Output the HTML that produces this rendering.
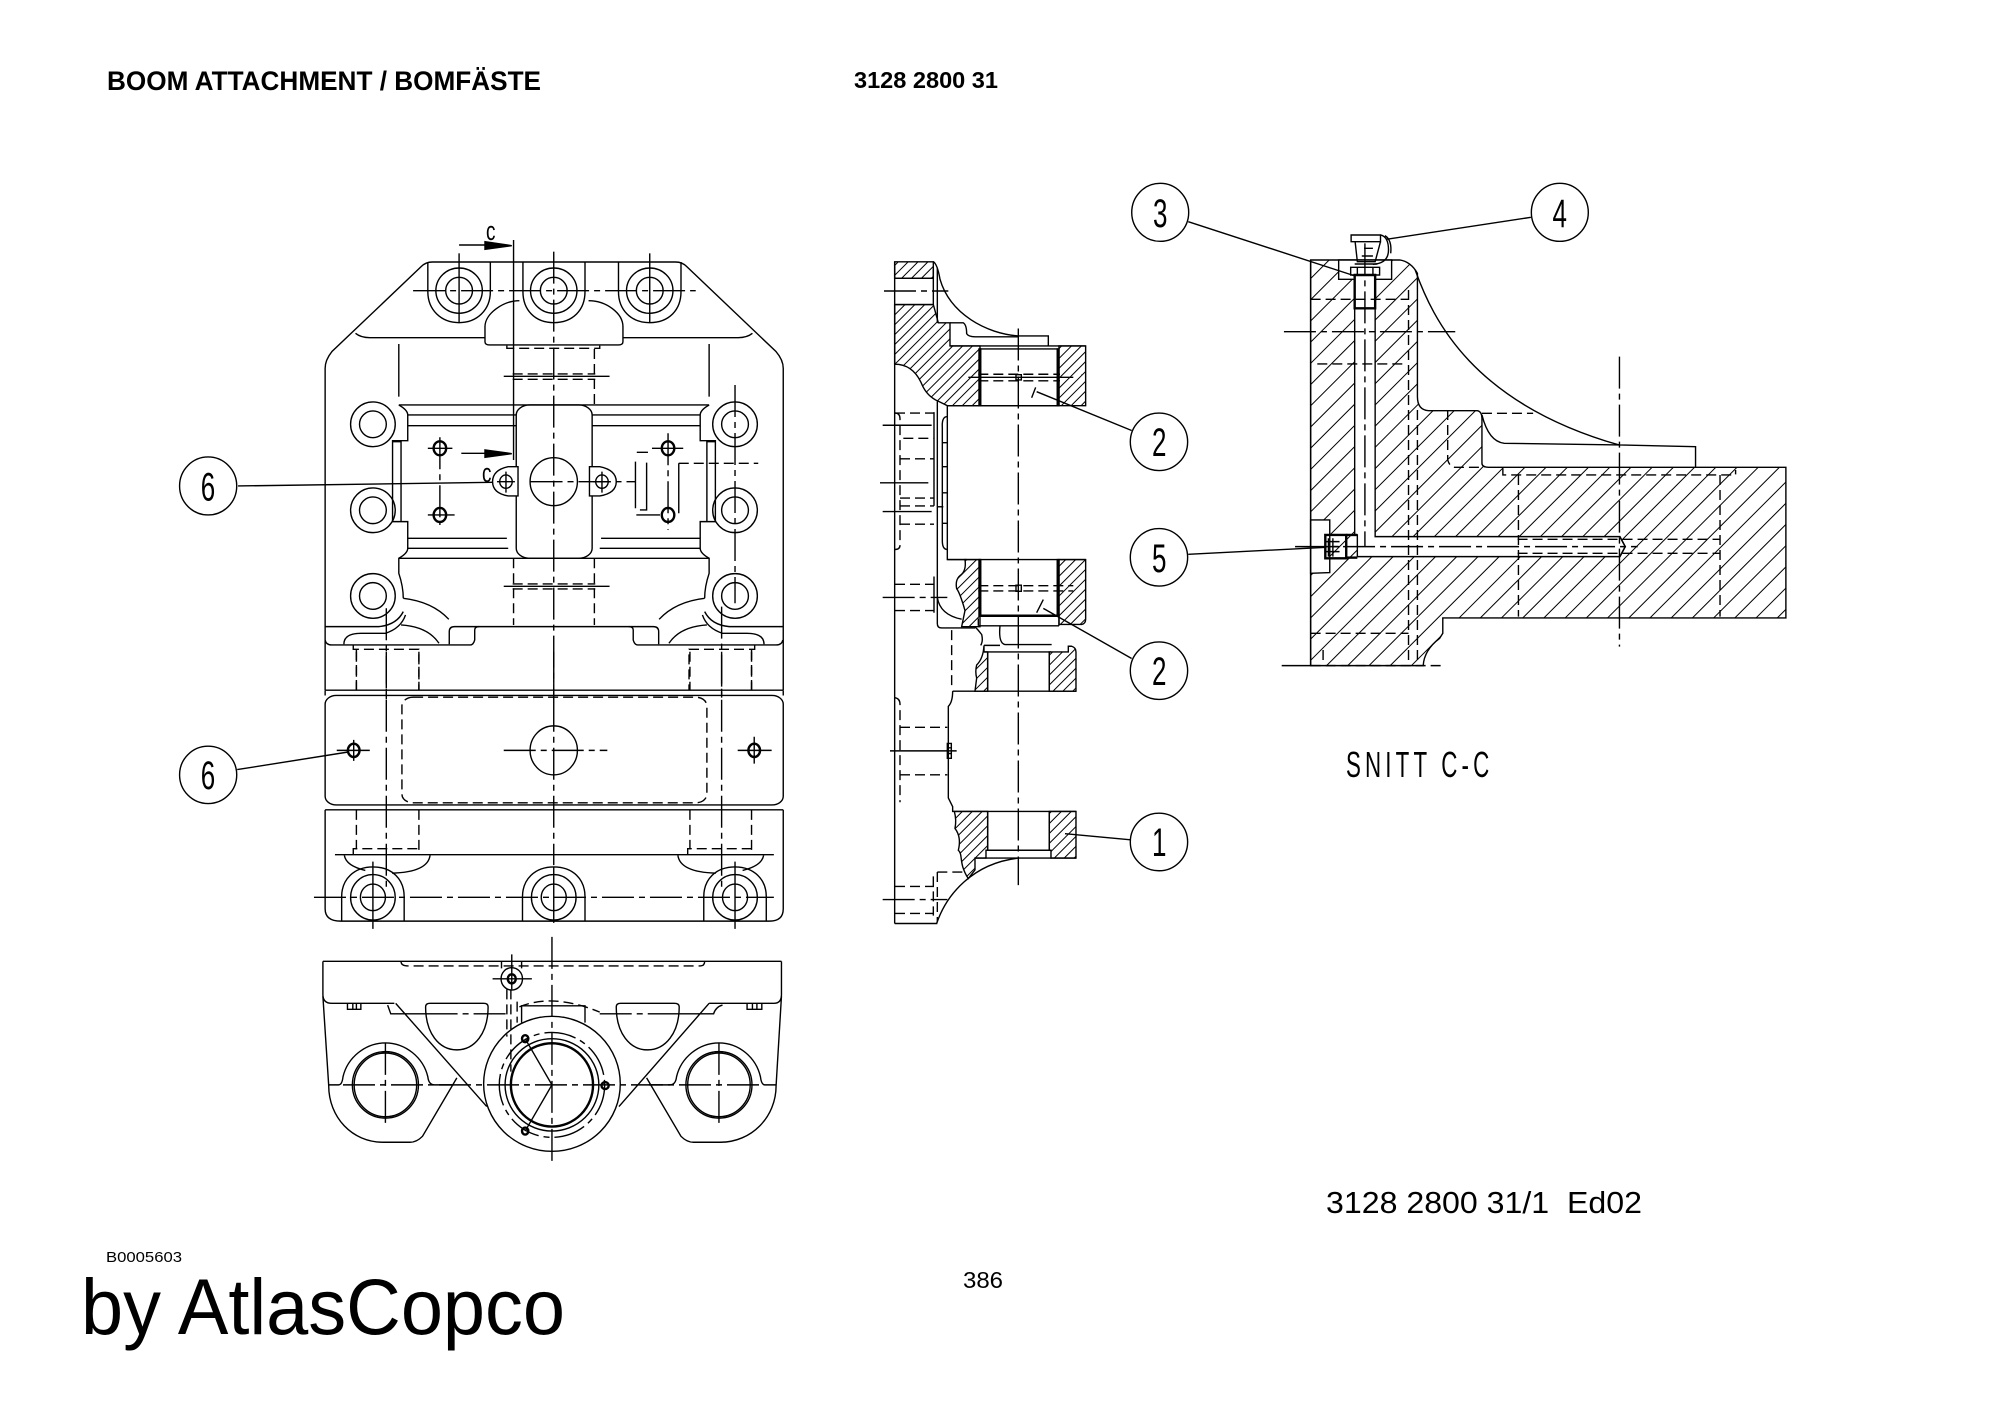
<!DOCTYPE html>
<html><head><meta charset="utf-8"><style>
html,body{margin:0;padding:0;background:#fff;width:2000px;height:1414px;overflow:hidden}
svg{display:block}
.d *{vector-effect:non-scaling-stroke}
.d path,.d line,.d ellipse,.d rect{fill:none;stroke:#000;stroke-width:1.4}
.d .c{stroke-dasharray:32 5 6 5}
.d .h{stroke-dasharray:10 5}
.d .t{stroke-width:2.4}
.d .k{fill:#000}
.d .w{fill:#fff}
.d .z3{fill:url(#hz3);stroke:#000}
.d .z4{fill:url(#hz4);stroke:#000}
text{font-family:"Liberation Sans",sans-serif;fill:#000}
</style></head><body>
<svg width="2000" height="1414" viewBox="0 0 2000 1414" xmlns="http://www.w3.org/2000/svg">
<defs>
<pattern id="hz3" patternUnits="userSpaceOnUse" width="7" height="7" patternTransform="scale(3,2.294) rotate(45)"><line x1="0" y1="0" x2="0" y2="7" stroke="#000" stroke-width="2"/></pattern>
<pattern id="hz4" patternUnits="userSpaceOnUse" width="15" height="15" patternTransform="scale(2.247,3) rotate(45)"><line x1="0" y1="0" x2="0" y2="15" stroke="#000" stroke-width="2"/></pattern>
</defs>
<rect width="2000" height="1414" fill="#fff"/>

<!-- top view upper part -->
<g class="d" transform="translate(151,200) scale(.4465,.3333)">
<path d="M390,1470V505Q390,480 405,455L605,200Q615,186 630,186H1175Q1190,186 1200,200L1400,455Q1416,480 1416,505V1470"/>
<path d="M458,400Q470,413 490,413H748M1057,413H1315Q1335,413 1347,400"/>
<path d="M620,186V275C620,330 650,368 690,368C730,368 760,330 760,275V186"/>
<path d="M833,186V275C833,330 860,368 902,368C945,368 972,330 972,275V186"/>
<path d="M1047,186V275C1047,330 1075,368 1117,368C1160,368 1187,330 1187,275V186"/>
<ellipse cx="690" cy="272" rx="52" ry="68"/><ellipse cx="690" cy="272" rx="30" ry="40"/>
<ellipse cx="902" cy="272" rx="52" ry="68"/><ellipse cx="902" cy="272" rx="30" ry="40"/>
<ellipse cx="1117" cy="272" rx="52" ry="68"/><ellipse cx="1117" cy="272" rx="30" ry="40"/>
<line class="c" x1="587" y1="272" x2="1220" y2="272"/>
<line x1="690" y1="160" x2="690" y2="368"/><line x1="1117" y1="160" x2="1117" y2="368"/>
<path d="M825,302C790,302 748,340 748,380V425Q748,435 758,435H1047Q1057,435 1057,425V380C1057,340 1020,302 980,302"/>
<path class="h" d="M797,437V445H1005V437"/>
<line class="c" x1="902" y1="155" x2="902" y2="1500"/>
<line x1="812" y1="120" x2="812" y2="780"/>
<line class="h" x1="812" y1="1075" x2="812" y2="1275"/>
<line class="h" x1="993" y1="447" x2="993" y2="615"/><line class="h" x1="993" y1="1075" x2="993" y2="1275"/>
<line x1="690" y1="135" x2="750" y2="135"/><path class="k" d="M748,125L808,137L748,148Z"/>
<line x1="695" y1="760" x2="750" y2="760"/><path class="k" d="M748,750L808,761L748,772Z"/>
<line x1="790" y1="529" x2="1027" y2="529"/><line class="h" x1="810" y1="522" x2="995" y2="522"/><line class="h" x1="810" y1="538" x2="995" y2="538"/>
<line x1="790" y1="1159" x2="1027" y2="1159"/><line class="h" x1="810" y1="1152" x2="995" y2="1152"/><line class="h" x1="810" y1="1167" x2="995" y2="1167"/>
<line x1="555" y1="615" x2="1250" y2="615"/><line x1="555" y1="1075" x2="1250" y2="1075"/>
<g id="a1">
<line x1="555" y1="432" x2="555" y2="590"/>
<ellipse cx="497" cy="673" rx="50" ry="67"/><ellipse cx="497" cy="673" rx="30" ry="40"/>
<ellipse cx="497" cy="931" rx="50" ry="67"/><ellipse cx="497" cy="931" rx="30" ry="40"/>
<ellipse cx="497" cy="1188" rx="50" ry="67"/><ellipse cx="497" cy="1188" rx="30" ry="40"/>
<path d="M555,615Q575,630 575,645V722H541V965H575V1045Q575,1060 555,1075V1120Q565,1160 565,1195"/>
<path d="M541,725H560V965"/>
<path d="M575,645H818M575,677H818M575,1015H797M575,1045H800"/>
<path d="M565,1195Q630,1205 667,1258"/>
<path d="M390,1280H510Q550,1275 565,1235"/>
<path d="M432,1333Q432,1300 470,1300H525Q560,1285 570,1245"/>
<path d="M560,1275Q620,1280 645,1330"/>
<path d="M390,1320Q392,1335 405,1335H715Q722,1335 725,1320V1290Q725,1280 735,1280H902"/>
<path d="M668,1333V1295Q668,1280 680,1280H735"/>
<path class="h" d="M453,1335V1348H600V1470M460,1350V1470"/>
</g>
<use href="#a1" transform="translate(1805,0) scale(-1,1)"/>
<line x1="1308" y1="555" x2="1308" y2="1210" class="c"/>
<line class="c" x1="527" y1="1225" x2="527" y2="1500"/><line class="c" x1="1278" y1="1220" x2="1278" y2="1500"/>
<rect x="818" y="615" width="170" height="460" rx="30"/>
<ellipse class="t" cx="647" cy="745" rx="14" ry="21"/><ellipse class="t" cx="647" cy="945" rx="14" ry="21"/>
<ellipse class="t" cx="1158" cy="745" rx="14" ry="21"/><ellipse class="t" cx="1158" cy="945" rx="14" ry="21"/>
<path d="M620,745H675M620,945H680M1122,745H1192M1087,945H1140"/>
<path class="c" d="M647,712V975M1158,700V990"/>
<path class="w" d="M822,800H800Q765,810 765,845Q765,880 800,888H822Z"/>
<path class="w" d="M982,800H1005Q1042,810 1042,845Q1042,880 1005,888H982Z"/>
<ellipse cx="795" cy="845" rx="14" ry="20"/><ellipse cx="1010" cy="845" rx="14" ry="20"/>
<path d="M795,815V878M1010,815V878M775,845H815M990,845H1030"/>
<ellipse cx="902" cy="845" rx="53" ry="72"/>
<line class="c" x1="850" y1="845" x2="1085" y2="845"/>
<line x1="195" y1="858" x2="765" y2="847"/>
<ellipse cx="128" cy="858" rx="64" ry="87"/>
<path d="M1085,785V925M1110,788V930H1095M1088,757H1113M1182,790V940"/>
<line class="h" x1="1182" y1="790" x2="1360" y2="790"/>
</g>

<!-- top view lower part & bottom view -->
<g class="d" transform="translate(151,651.7) scale(.4465,.3499)">
<rect x="390" y="125" width="1026" height="313" rx="25"/>
<path d="M390,110V125M1416,110V125M390,452H1416"/>
<line x1="390" y1="110" x2="1416" y2="110"/>
<rect class="h" x="562" y="130" width="683" height="302" rx="25"/>
<ellipse cx="902" cy="282" rx="53" ry="70"/>
<line class="c" x1="790" y1="282" x2="1022" y2="282"/>
<line class="c" x1="902" y1="0" x2="902" y2="610"/>
<line class="c" x1="527" y1="0" x2="527" y2="680"/><line class="c" x1="1278" y1="0" x2="1278" y2="680"/>
<ellipse class="t" cx="454" cy="282" rx="13" ry="19"/><ellipse class="t" cx="1351" cy="282" rx="13" ry="19"/>
<path d="M416,282H490M454,252V312M1314,282H1390M1351,243V320"/>
<line x1="193" y1="337" x2="440" y2="287"/>
<ellipse cx="128" cy="352" rx="64" ry="82"/>
<path class="h" d="M460,0V110M600,0V110M460,452V565M600,452V580M1207,0V110M1345,0V110M1207,452V565M1345,452V580"/>
<path class="h" d="M453,580V563H600M1202,580V563H1345"/>
<line x1="412" y1="580" x2="1395" y2="580"/>
<path d="M390,452V735Q390,770 425,770H1385Q1416,770 1416,735V452"/>
<path d="M427,770V700C427,650 455,615 497,615C540,615 567,650 567,700V770"/>
<path d="M832,770V700C832,650 860,615 902,615C945,615 972,650 972,700V770"/>
<path d="M1238,770V700C1238,650 1265,615 1308,615C1350,615 1378,650 1378,700V770"/>
<ellipse cx="497" cy="702" rx="50" ry="65"/><ellipse cx="497" cy="702" rx="28" ry="38"/>
<ellipse cx="902" cy="702" rx="50" ry="65"/><ellipse cx="902" cy="702" rx="28" ry="38"/>
<ellipse cx="1308" cy="702" rx="50" ry="65"/><ellipse cx="1308" cy="702" rx="28" ry="38"/>
<path d="M433,582Q437,612 480,625M625,582Q620,630 540,633M1180,582Q1185,630 1265,633M1372,582Q1368,612 1325,625"/>
<line class="c" x1="365" y1="702" x2="1395" y2="702"/>
<path d="M497,600V792M902,615V775M1308,600V792"/>

<path d="M385,885H1412"/>
<path d="M385,885V980Q385,1005 405,1005H545M1412,885V980Q1412,1005 1395,1005H1250"/>
<path class="h" d="M560,885Q560,898 575,898H1230Q1240,898 1240,885"/>
<path d="M440,1005V1022H470V1005M452,1005V1022M460,1005V1022M1335,1005V1022H1368V1005M1347,1005V1022M1357,1005V1022"/>
<path d="M548,1005L752,1300M1250,1005L1048,1300"/>
<path d="M685,1218L608,1385Q595,1402 580,1402H520C450,1402 398,1330 398,1240L385,985"/>
<path d="M1110,1218L1187,1385Q1200,1402 1215,1402H1275C1345,1402 1400,1330 1400,1240L1412,985"/>
<path d="M398,1238H420Q428,1238 430,1215C440,1160 480,1118 525,1118C570,1118 610,1160 620,1215Q622,1238 635,1238H678"/>
<path d="M1400,1238H1375Q1367,1238 1365,1215C1355,1160 1317,1118 1272,1118C1227,1118 1187,1160 1177,1215Q1175,1238 1162,1238H1115"/>
<ellipse cx="525" cy="1238" rx="74" ry="95"/><ellipse cx="525" cy="1238" rx="70" ry="91"/>
<ellipse cx="1272" cy="1238" rx="74" ry="95"/><ellipse cx="1272" cy="1238" rx="70" ry="91"/>
<path d="M615,1015Q615,1005 625,1005H745Q755,1005 755,1015C755,1090 725,1138 685,1138C645,1138 615,1090 615,1015Z"/>
<path d="M1042,1015Q1042,1005 1052,1005H1172Q1183,1005 1183,1015C1183,1090 1152,1138 1112,1138C1072,1138 1042,1090 1042,1015Z"/>
<path d="M530,1010L537,1035H615"/><line class="c" x1="615" y1="1035" x2="795" y2="1035"/>
<path d="M1280,1010Q1265,1015 1260,1035H1183"/><line class="c" x1="1005" y1="1035" x2="1183" y2="1035"/>
<ellipse cx="898" cy="1235" rx="153" ry="193"/>
<ellipse class="c" cx="898" cy="1238" rx="118" ry="150"/>
<ellipse cx="898" cy="1238" rx="105" ry="132"/>
<ellipse class="t" cx="898" cy="1238" rx="92" ry="119"/>
<path d="M830,1060V1012H972V1060"/>
<path class="h" d="M825,1015Q900,975 1005,1030"/>
<ellipse class="t" cx="838" cy="1106" rx="7" ry="10"/><ellipse class="t" cx="838" cy="1370" rx="7" ry="10"/><ellipse class="t" cx="1017" cy="1240" rx="8" ry="10"/>
<path d="M838,1106L898,1238L838,1370"/>
<line class="c" x1="898" y1="815" x2="898" y2="1460"/>
<line class="c" x1="430" y1="1238" x2="1365" y2="1238"/>
<line class="c" x1="525" y1="1118" x2="525" y2="1355"/><line class="c" x1="1272" y1="1118" x2="1272" y2="1355"/>
<ellipse cx="808" cy="935" rx="24" ry="32"/><ellipse class="t" cx="808" cy="935" rx="9" ry="13"/>
<path d="M808,865V965M765,935H853M785,885V905M830,885V905"/>
<path class="h" d="M797,965V1100M806,965V1200M820,1000V1060"/>
</g>

<!-- side view -->
<g class="d" transform="translate(860,240) scale(.3333,.4359)">
<path class="z3" d="M104,50H220V88H104Z"/>
<path class="z3" d="M104,148H220L235,190H270V243H360V380H262L235,370Q200,358 185,330C165,295 135,285 104,285Z"/>
<path class="z3" d="M597,243H677V380H597Z"/>
<path class="z3" d="M315,733H360V887H305L315,850Q300,810 290,800Q285,780 300,770Q320,760 315,733Z"/>
<path class="z3" d="M597,733H677V870Q677,880 665,882H597Z"/>
<path class="z3" d="M372,930V945H383V1035H345L350,1005Q345,990 350,975Q370,960 372,930Z"/>
<path class="z3" d="M568,945H625V932H635Q648,935 648,945V1035H568Z"/>
<path class="z3" d="M283,1311H383V1400H378V1418H345V1445L325,1465C295,1430 310,1410 295,1400Q305,1370 285,1350Q290,1330 283,1311Z"/>
<path class="z3" d="M568,1311H648V1418H573V1400H568Z"/>
<rect class="k" x="357" y="250" width="5" height="130"/><rect class="k" x="592" y="250" width="5" height="130"/>
<rect class="k" x="357" y="733" width="5" height="130"/><rect class="k" x="592" y="733" width="5" height="130"/>
<line x1="104" y1="50" x2="104" y2="1568"/>
<path d="M104,1568H232"/>
<path d="M220,65V148M232,65V190"/>
<path d="M220,50Q232,55 240,90C270,170 380,215 475,220H565V243"/>
<path d="M270,190H310Q320,195 320,215Q325,222 345,222H475"/>
<path d="M104,88H220M104,148H220"/>
<line class="c" x1="72" y1="117" x2="265" y2="117"/>
<line class="c" x1="475" y1="203" x2="475" y2="1480"/>
<rect x="362" y="250" width="230" height="130"/>
<path d="M270,243H677M262,380H597"/>
<line class="h" x1="355" y1="308" x2="600" y2="308"/><line class="h" x1="355" y1="323" x2="600" y2="323"/>
<line x1="325" y1="315" x2="640" y2="315"/>
<rect x="468" y="309" width="16" height="12"/>
<line x1="530" y1="348" x2="815" y2="437"/><line x1="515" y1="362" x2="527" y2="338"/>
<path d="M262,380V733H320"/>
<path d="M232,370V880Q232,890 245,890H345"/>
<path d="M262,405Q245,405 247,430V690Q247,710 262,710M247,465H262M247,520H262M247,580H262M247,650H262"/>
<path d="M232,612H250"/>
<path class="h" d="M105,397Q120,397 120,410V700Q120,710 105,710"/>
<path class="h" d="M105,397H222M130,455H222M120,502H222M120,592H222M120,610H222M120,652H222M105,790H222M105,850H222"/>
<line x1="68" y1="425" x2="215" y2="425"/><line x1="60" y1="557" x2="205" y2="557"/><line x1="68" y1="623" x2="215" y2="623"/>
<line class="c" x1="68" y1="820" x2="262" y2="820"/><line x1="90" y1="1172" x2="290" y2="1172"/><line class="c" x1="68" y1="1513" x2="262" y2="1513"/>
<path d="M222,395V610M222,772V855"/>
<path d="M232,820Q240,860 305,870"/>
<path d="M362,733V862H592V733"/>
<line class="t" x1="362" y1="862" x2="592" y2="862"/>
<line x1="262" y1="733" x2="677" y2="733"/>
<line class="h" x1="355" y1="793" x2="640" y2="793"/><line class="h" x1="355" y1="805" x2="640" y2="805"/>
<rect x="468" y="792" width="16" height="14"/>
<path d="M355,885H597M355,868V885M597,863V885"/>
<path d="M345,888Q350,890 365,905Q370,920 362,930"/>
<path d="M420,885Q415,925 435,928H575M372,945H573M372,930H420"/>
<line x1="383" y1="945" x2="383" y2="1035"/><line x1="568" y1="945" x2="568" y2="1035"/>
<path d="M278,1035H648"/>
<path d="M278,1035Q278,1060 265,1070V1280L278,1300V1311H648"/>
<line class="h" x1="275" y1="895" x2="275" y2="1030"/>
<path class="h" d="M105,1050Q120,1052 120,1065V1290"/>
<path class="h" d="M120,1118H262M120,1227H262M105,1483H222M105,1545H222"/>
<path d="M383,1311V1400M568,1311V1400M378,1400H573M345,1418H648"/>
<path d="M230,1568C260,1500 340,1430 475,1418"/>
<path class="h" d="M220,1460V1550M232,1450V1565M232,1450H320"/>
<rect x="262" y="1155" width="12" height="34"/><path d="M262,1165H274M262,1178H274"/>
<line x1="550" y1="845" x2="815" y2="960"/><line x1="530" y1="855" x2="550" y2="825"/>
<line x1="615" y1="1362" x2="812" y2="1376"/>
<ellipse cx="897" cy="463" rx="86" ry="66"/><ellipse cx="897" cy="728" rx="86" ry="66"/><ellipse cx="897" cy="988" rx="86" ry="66"/><ellipse cx="897" cy="1381" rx="86" ry="66"/>
</g>

<!-- section C-C -->
<g class="d" transform="translate(1121.5,170) scale(.445,.3333)">
<path class="z4" d="M425,270H625Q650,275 665,310V680Q665,720 690,722H800Q810,725 810,745V880Q810,892 825,892H1493V1344H722V1390L715,1405Q680,1440 678,1487H425Z"/>
<path class="w" d="M488,270H607V328H570V1100H1120L1132,1130L1120,1160H530V1095H524V328H488Z" style="stroke:#000"/>
<path class="w" d="M425,1050H468V1208L425,1210Z" style="stroke:#000"/>
<path d="M425,270V1487"/>
<path class="w" d="M516,195H582V215H516Z" style="stroke:#000"/>
<path d="M525,215L530,275H570L582,215M582,195Q600,200 600,240Q600,280 565,283"/>
<path d="M592,197Q608,210 605,250"/>
<rect class="w" x="515" y="292" width="65" height="23" style="stroke:#000"/>
<path d="M530,292V315M565,292V315"/>
<rect x="524" y="315" width="46" height="100" class="t"/>
<path d="M524,282H575M540,258H565M545,235H565"/>
<line x1="150" y1="155" x2="525" y2="318"/>
<line x1="920" y1="142" x2="595" y2="208"/>
<line x1="150" y1="1153" x2="460" y2="1132"/>
<rect class="t" x="458" y="1095" width="47" height="70"/>
<path d="M465,1105V1160M475,1105V1160M458,1115H490M458,1130H490M458,1145H490"/>
<line class="t" x1="505" y1="1095" x2="530" y2="1095"/><line class="t" x1="505" y1="1163" x2="530" y2="1163"/>
<path d="M1120,1100L1132,1130L1120,1160"/>
<line class="c" x1="365" y1="485" x2="750" y2="485"/>
<line class="c" x1="547" y1="220" x2="547" y2="1130"/>
<line class="c" x1="390" y1="1130" x2="1160" y2="1130"/>
<line class="c" x1="1119" y1="560" x2="1119" y2="1430"/>
<path d="M660,300C700,450 790,700 1118,825L1290,830V892"/>
<path d="M810,735Q825,815 860,820L1118,825"/>
<path class="h" d="M810,730H925M425,388H645M440,582H640M645,360V1487M665,720V1487M733,720V870Q738,892 750,892H815M857,895V915H1380V900M892,915V1340M1345,915V1340M890,1108H1345M890,1150H1345M425,1390H645M425,1487H720M453,1440V1487"/>
<path d="M360,1487H425"/>
<ellipse cx="87" cy="127" rx="64" ry="87"/><ellipse cx="985" cy="127" rx="64" ry="87"/>
</g>

<!-- circle digits -->
<g font-size="40">
<text transform="translate(200.7,500.5) scale(.65,1)">6</text>
<text transform="translate(200.7,789) scale(.65,1)">6</text>
<text transform="translate(1152,456) scale(.65,1)">2</text>
<text transform="translate(1152,572) scale(.65,1)">5</text>
<text transform="translate(1152,685) scale(.65,1)">2</text>
<text transform="translate(1152,856) scale(.65,1)">1</text>
<text transform="translate(1153,227) scale(.65,1)">3</text>
<text transform="translate(1552.5,227) scale(.65,1)">4</text>
</g>
<text transform="translate(486,240) scale(.7,1)" font-size="27">c</text>
<text transform="translate(482,482) scale(.7,1)" font-size="27">c</text>
<text font-size="27" font-weight="bold" x="107" y="90" textLength="434" lengthAdjust="spacingAndGlyphs">BOOM ATTACHMENT / BOMFÄSTE</text>
<text font-size="23" font-weight="bold" x="854" y="88" textLength="144" lengthAdjust="spacingAndGlyphs">3128 2800 31</text>
<text font-size="31" x="1326" y="1213" textLength="316" lengthAdjust="spacingAndGlyphs" xml:space="preserve">3128 2800 31/1  Ed02</text>
<text font-size="15" x="106" y="1262" textLength="76" lengthAdjust="spacingAndGlyphs">B0005603</text>
<text font-size="23" x="963" y="1288" textLength="40" lengthAdjust="spacingAndGlyphs">386</text>
<text font-size="79" x="81" y="1334" textLength="484" lengthAdjust="spacingAndGlyphs">by AtlasCopco</text>
<text transform="translate(1346,777) scale(.62,1)" font-size="36" textLength="231" lengthAdjust="spacing">SNITT C-C</text>
</svg>
</body></html>
